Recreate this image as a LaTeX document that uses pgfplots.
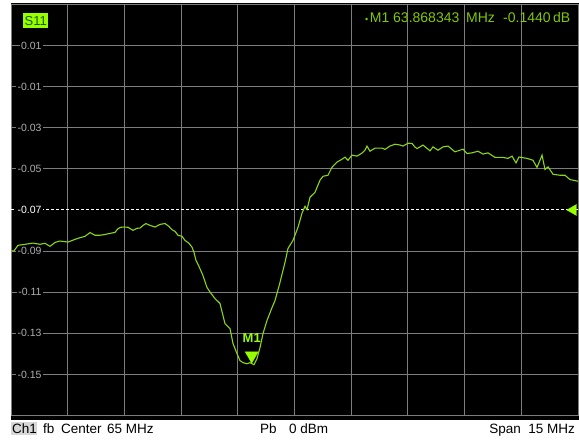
\documentclass[border=0pt]{standalone}
\usepackage{fontspec}
\setmainfont{Liberation Sans}
\usepackage{pgfplots}
\pgfplotsset{compat=1.18}
\definecolor{trace}{RGB}{140,215,20}
\definecolor{lime}{RGB}{150,255,0}
\definecolor{mtext}{RGB}{130,200,0}
\definecolor{gridc}{RGB}{125,125,125}
\definecolor{tickc}{RGB}{175,175,175}
\definecolor{chbox}{RGB}{215,215,215}
\definecolor{sdark}{RGB}{30,90,0}
\begin{document}
\begin{tikzpicture}[x=1pt,y=1pt]
\useasboundingbox (0,0) rectangle (579,443);
\fill[white] (0,0) rectangle (579,443);
\fill[black] (11,23) rectangle (579,440);
\begin{axis}[
  at={(11pt,27.5pt)}, anchor=south west,
  scale only axis, width=567pt, height=411pt,
  xmin=57.5, xmax=72.5, ymin=-0.17, ymax=0.03,
  axis line style={gridc, line width=1pt},
  xtick={57.5,59,60.5,62,63.5,65,66.5,68,69.5,71,72.5},
  xticklabels={},
  ytick={-0.15,-0.13,-0.11,-0.09,-0.05,-0.03,-0.01,0.01},
  yticklabels={-0.15,-0.13,-0.11,-0.09,-0.05,-0.03,-0.01,0.01},
  extra y ticks={-0.07},
  extra y tick labels={-0.07},
  extra y tick style={grid style={white, dash pattern=on 3pt off 2pt, line width=1pt}, yticklabel style={text=white}},
  grid=major, grid style={gridc, line width=1pt},
  major tick length=0pt,
  yticklabel style={anchor=east, xshift=32pt, fill=black, inner sep=1.3pt, text=tickc, font=\fontsize{10.5}{12}\selectfont},
  clip=false,
]
\addplot[trace, line width=1.1pt] coordinates {
(57.500,-0.0899) (57.579,-0.0899) (57.685,-0.0872) (57.870,-0.0867) (58.082,-0.0861)
(58.267,-0.0867) (58.399,-0.0862) (58.532,-0.0877) (58.664,-0.0858) (58.796,-0.0851)
(59.008,-0.0856) (59.193,-0.0843) (59.325,-0.0835) (59.458,-0.0828) (59.590,-0.0810)
(59.722,-0.0823) (59.855,-0.0823) (59.987,-0.0819) (60.119,-0.0814) (60.251,-0.0809)
(60.331,-0.0791) (60.410,-0.0784) (60.489,-0.0783) (60.595,-0.0784) (60.728,-0.0799)
(60.833,-0.0789) (60.913,-0.0788) (60.992,-0.0775) (61.071,-0.0766) (61.177,-0.0775)
(61.310,-0.0783) (61.442,-0.0770) (61.574,-0.0766) (61.680,-0.0780) (61.759,-0.0796)
(61.839,-0.0804) (61.918,-0.0823) (62.024,-0.0828) (62.103,-0.0848) (62.209,-0.0862)
(62.288,-0.0881) (62.341,-0.0906) (62.394,-0.0945) (62.474,-0.0975) (62.579,-0.1019)
(62.685,-0.1077) (62.791,-0.1106) (62.897,-0.1131) (63.029,-0.1155) (63.161,-0.1253)
(63.294,-0.1277) (63.373,-0.1350) (63.479,-0.1399) (63.558,-0.1433) (63.638,-0.1443)
(63.743,-0.1448) (63.823,-0.1443) (63.929,-0.1453) (64.008,-0.1423) (64.087,-0.1370)
(64.167,-0.1301) (64.272,-0.1238) (64.405,-0.1175) (64.484,-0.1141) (64.616,-0.1053)
(64.749,-0.0955) (64.828,-0.0887) (64.960,-0.0848) (65.093,-0.0784) (65.198,-0.0716)
(65.278,-0.0682) (65.331,-0.0698) (65.410,-0.0638) (65.542,-0.0614) (65.675,-0.0555)
(65.754,-0.0536) (65.886,-0.0531) (65.992,-0.0492) (66.124,-0.0467) (66.257,-0.0453)
(66.336,-0.0443) (66.415,-0.0458) (66.521,-0.0433) (66.653,-0.0438) (66.786,-0.0423)
(66.865,-0.0409) (66.918,-0.0389) (66.997,-0.0414) (67.130,-0.0399) (67.315,-0.0399)
(67.394,-0.0405) (67.526,-0.0389) (67.659,-0.0380) (67.791,-0.0384) (67.870,-0.0389)
(68.003,-0.0375) (68.108,-0.0376) (68.188,-0.0394) (68.241,-0.0401) (68.320,-0.0393)
(68.399,-0.0384) (68.585,-0.0412) (68.664,-0.0393) (68.796,-0.0409) (68.929,-0.0393)
(69.061,-0.0389) (69.246,-0.0417) (69.458,-0.0404) (69.563,-0.0425) (69.696,-0.0422)
(69.854,-0.0414) (69.987,-0.0428) (70.119,-0.0422) (70.304,-0.0444) (70.516,-0.0444)
(70.648,-0.0449) (70.754,-0.0438) (70.860,-0.0471) (70.939,-0.0442) (71.151,-0.0449)
(71.310,-0.0458) (71.415,-0.0493) (71.495,-0.0458) (71.548,-0.0433) (71.627,-0.0503)
(71.707,-0.0490) (71.839,-0.0526) (72.024,-0.0531) (72.156,-0.0531) (72.289,-0.0552)
(72.500,-0.0560)
};
\addplot[only marks, mark=triangle*, mark size=7.5pt, color=lime,
  mark options={yshift=6.5pt, rotate=180},
  point meta=explicit symbolic, nodes near coords,
  nodes near coords style={anchor=base, yshift=13.4pt, inner sep=0pt, text=lime, font=\fontsize{13}{14}\selectfont\bfseries}]
  coordinates {(63.868343,-0.1440) [M1]};
\addplot[only marks, mark=triangle*, mark size=6.35pt, color=lime, mark options={rotate=90}]
  coordinates {(72.375,-0.07)};
\end{axis}
% S11 badge
\node[fill=lime, text=sdark, minimum width=25pt, minimum height=15pt, inner sep=0pt, anchor=north west, font=\fontsize{13}{14}\selectfont] at (23,430) {S11};
% marker readout
\begin{scope}[every node/.style={anchor=base west, inner sep=0pt, text=mtext, font=\fontsize{14}{16}\selectfont}]
\node at (365,420) {{\fontsize{9}{9}\selectfont\textbullet}\kern1.5pt M1};
\node at (393,420) {63.868343};
\node at (466,420) {MHz};
\node at (503,420) {-0.1440};
\node at (553,420) {dB};
\end{scope}
% status bar
\fill[chbox] (11,7.5) rectangle (36.5,21);
\begin{scope}[every node/.style={anchor=base west, inner sep=0pt, text=black, font=\fontsize{13.5}{15}\selectfont}]
\node at (12,9) {Ch1};
\node at (43,9) {fb};
\node at (61,9) {Center};
\node at (107,9) {65 MHz};
\node at (260,9) {Pb};
\node at (289,9) {0 dBm};
\node[anchor=base east] at (575,9) {Span\ \ 15 MHz};
\end{scope}
\end{tikzpicture}
\end{document}
